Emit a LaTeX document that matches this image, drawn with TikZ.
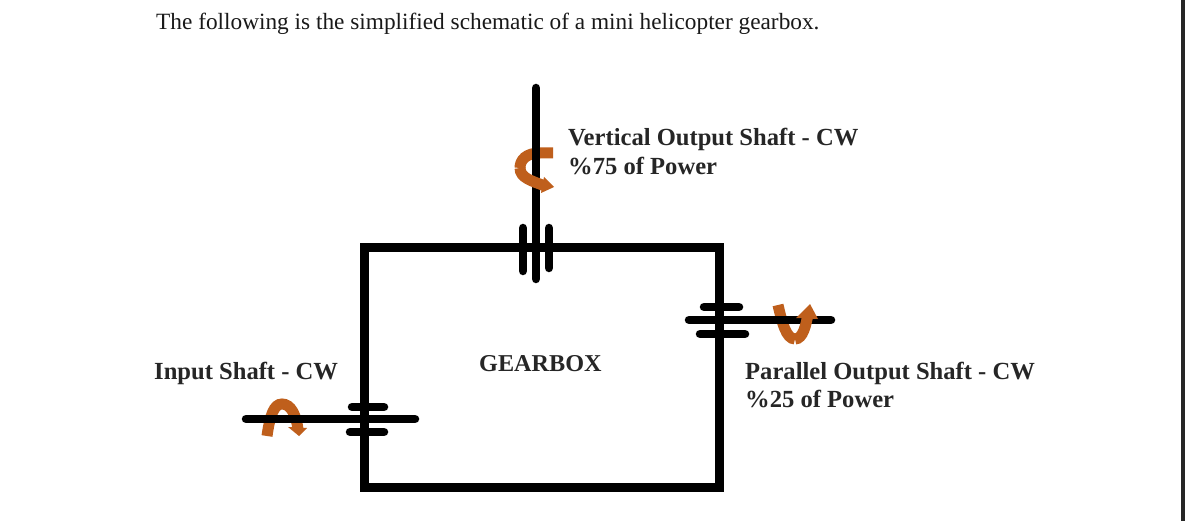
\documentclass[tikz,border=0pt]{standalone}
\usepackage{fontspec}
\setmainfont{Liberation Serif}
\tikzset{
  shaft/.style={line width=8.5pt,line cap=round,black},
  wall/.style={line width=9pt,line join=miter,black},
  spin/.style={line width=11pt,draw=turn,line cap=butt},
  spinhead/.style={fill=turn,draw=none},
  lab/.style={font=\bfseries\fontsize{24.6}{27}\selectfont,text=black!85,anchor=west,inner sep=0pt,align=left},
}
\definecolor{turn}{HTML}{BF5F1C}
\begin{document}
\begin{tikzpicture}[x=1pt,y=-1pt]
\useasboundingbox (0,0) rectangle (1185,521);
\fill[white] (0,0) rectangle (1185,521);
% page edge
\fill[black!85] (1181,0) rectangle (1184.5,521);
\node[anchor=west,inner sep=0pt,font=\fontsize{23.3}{28}\selectfont,text=black!90] (title) at (156,23.5) {The following is the simplified schematic of a mini helicopter gearbox.};
% gearbox
\draw[wall] (364,248) rectangle (719,487);
% vertical output shaft: rear part of the turn arrow goes behind it
\draw[spin] (553,153) -- (540,153) .. controls (526,153) and (520,160) .. (520,168);
\draw[shaft] (536,88) -- (536,279);
\draw[shaft] (523,228) -- (523,271);
\draw[shaft] (549,228) -- (549,268);
\draw[spin] (520,168) .. controls (520,178) and (532,181) .. (545,186);
\fill[spinhead] (544,177) -- (554,187) -- (541,193) -- cycle;
% parallel output shaft
\draw[spin] (778,305) .. controls (782,322) and (786,339) .. (795,339);
\draw[shaft] (689,320) -- (831,320);
\draw[shaft] (704,307) -- (739,307);
\draw[shaft] (700,334) -- (745,334);
\draw[spin] (795,339) .. controls (803,339) and (806,325) .. (808,314);
\fill[spinhead] (796,318) -- (810,304) -- (818,319) -- cycle;
% input shaft
\draw[spin] (267,436) .. controls (270,415) and (274,404) .. (282,404) .. controls (291,404) and (296,415) .. (298,429);
\fill[spinhead] (288,427) -- (307,428) -- (299,436) -- cycle;
\draw[shaft] (246,419) -- (415,419);
\draw[shaft] (352,407) -- (384,407);
\draw[shaft] (350,432) -- (384,432);
% labels
\node[lab] (vo) at (568,139) {Vertical Output Shaft - CW};
\node[lab] (vp) at (568,166) {\%75 of Power};
\node[lab,font=\bfseries\fontsize{24.2}{27}\selectfont] (gb) at (479,364) {GEARBOX};
\node[lab] (in) at (154,373) {Input Shaft - CW};
\node[lab] (po) at (745,373) {Parallel Output Shaft - CW};
\node[lab] (pp) at (745,399) {\%25 of Power};
\end{tikzpicture}
\end{document}
